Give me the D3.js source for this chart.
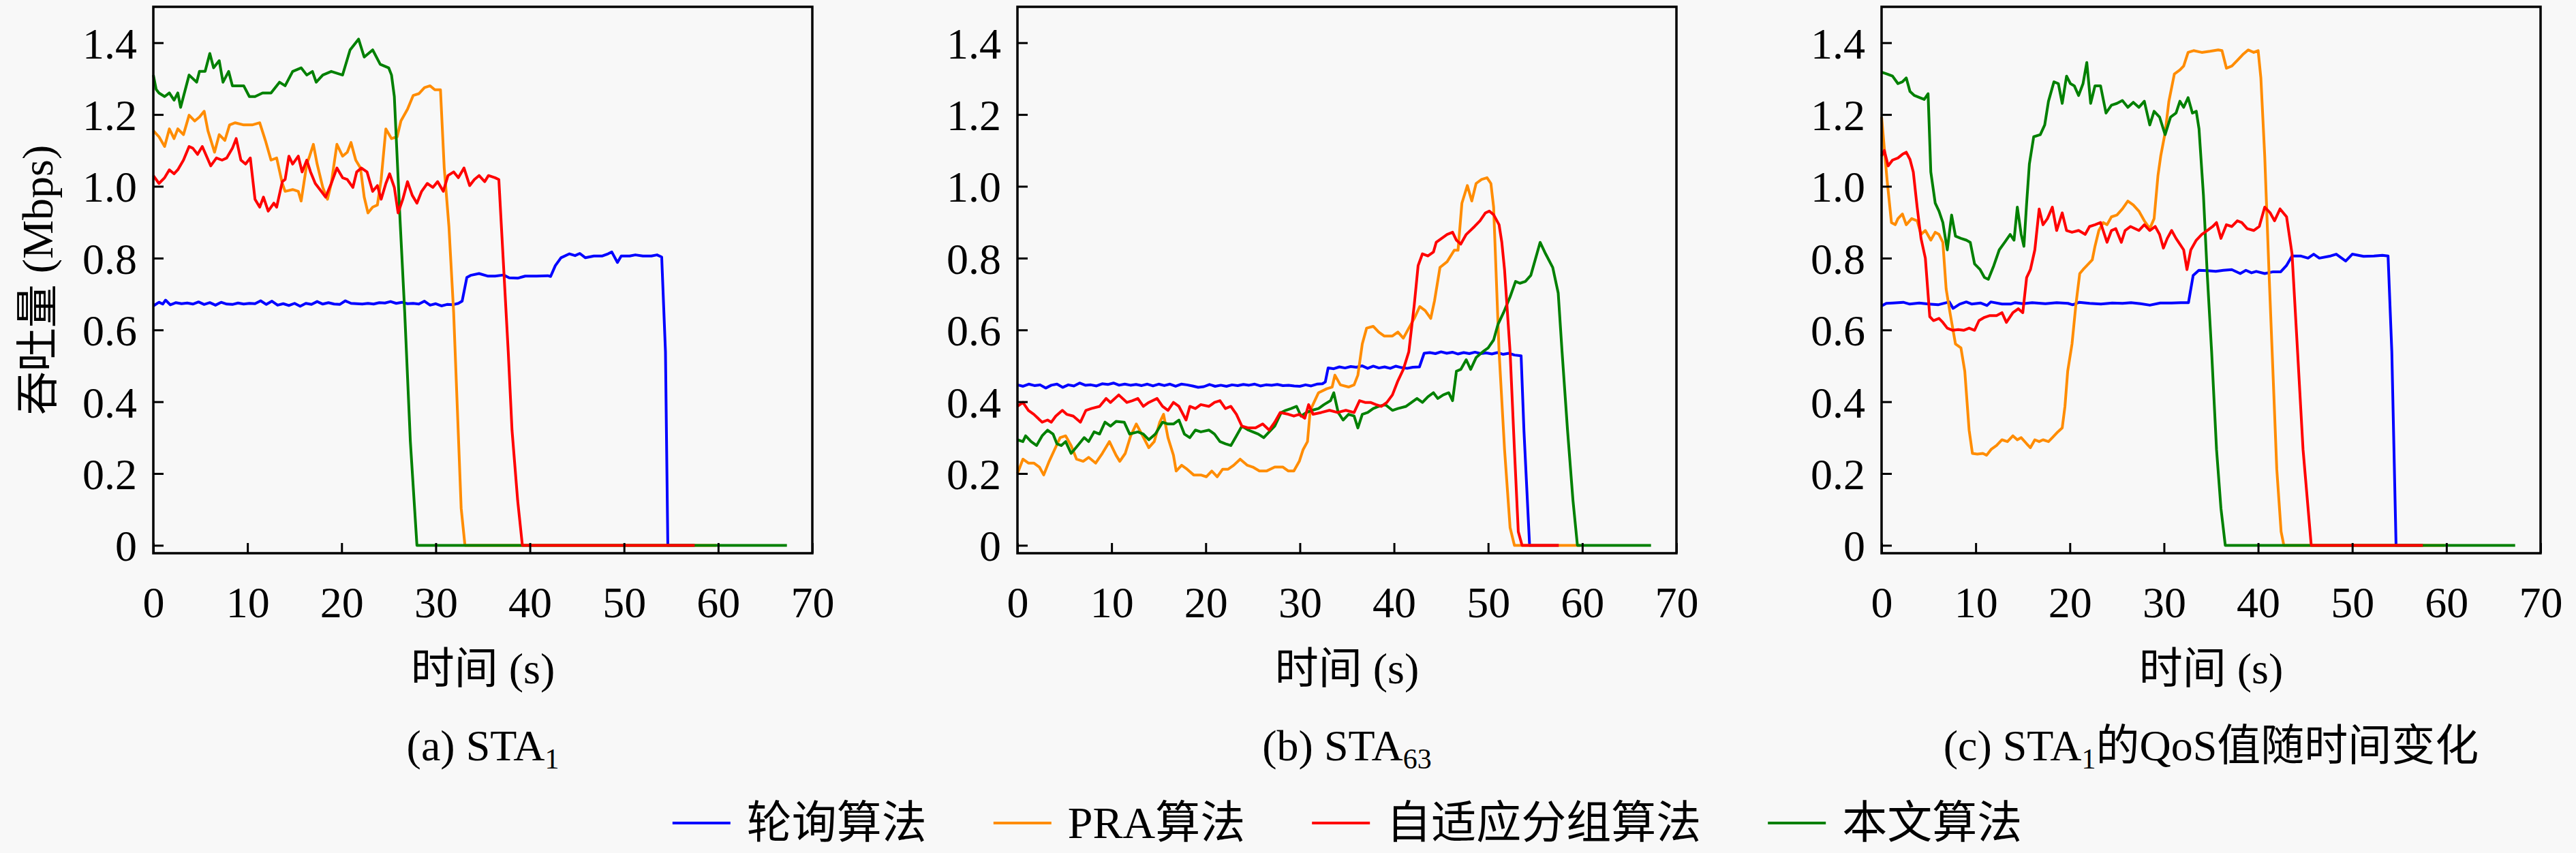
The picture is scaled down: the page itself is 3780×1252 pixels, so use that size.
<!DOCTYPE html>
<html><head><meta charset="utf-8">
<script src="https://cdn.jsdelivr.net/npm/d3@7"></script>
<style>
html,body{margin:0;padding:0;background:#f8f8f8;}
svg{display:block;}
text{font-family:"Liberation Serif","Noto Sans CJK SC",serif;fill:#000;}
</style></head><body>
<svg id="chart" width="3780" height="1252"></svg>
<script>
// ---------- tick labels / categories ----------
const timeTicks = [0, 10, 20, 30, 40, 50, 60, 70];
const rateTicks = [0, 0.2, 0.4, 0.6, 0.8, 1.0, 1.2, 1.4];
const seriesNames = ["轮询算法", "PRA算法", "自适应分组算法", "本文算法"];
const panelCaptions = [["(a) STA", "1", ""], ["(b) STA", "63", ""], ["(c) STA", "1", "的QoS值随时间变化"]];
const xLabel = "时间 (s)";
const yLabel = "吞吐量 (Mbps)";

// ---------- series values: [time (s), throughput (Mbps)] ----------
// (a) STA1
const rrA = [[0,0.667],[0.6,0.677],[1.0,0.672],[1.3,0.683],[1.8,0.67],[2.4,0.676],[3.0,0.673],[3.6,0.675],[4.2,0.672],[4.8,0.678],[5.4,0.671],[6.0,0.676],[6.6,0.669],[7.2,0.677],[7.8,0.672],[8.4,0.671],[9.0,0.675],[9.6,0.672],[10.2,0.674],[10.8,0.673],[11.4,0.681],[12.0,0.671],[12.6,0.68],[13.2,0.669],[13.8,0.673],[14.4,0.668],[15.0,0.674],[15.6,0.666],[16.2,0.674],[16.8,0.671],[17.4,0.679],[18.0,0.672],[18.6,0.676],[19.2,0.672],[19.8,0.671],[20.4,0.681],[21.0,0.674],[21.6,0.673],[22.2,0.672],[22.8,0.674],[23.4,0.672],[24.0,0.676],[24.6,0.675],[25.2,0.679],[25.8,0.674],[26.4,0.677],[27.0,0.673],[27.6,0.674],[28.2,0.672],[28.8,0.68],[29.4,0.669],[30.0,0.673],[30.6,0.667],[31.2,0.671],[31.8,0.67],[32.4,0.674],[32.8,0.68],[33.3,0.746],[33.7,0.752],[34.6,0.757],[35.5,0.75],[36.3,0.75],[37.2,0.753],[37.8,0.745],[38.7,0.744],[39.5,0.75],[40.7,0.75],[41.9,0.751],[42.2,0.749],[42.7,0.779],[43.3,0.801],[44.2,0.812],[44.8,0.807],[45.3,0.813],[45.9,0.801],[46.8,0.806],[47.7,0.806],[48.3,0.812],[48.7,0.817],[49.3,0.788],[49.7,0.806],[50.6,0.806],[51.2,0.809],[52.0,0.806],[52.9,0.806],[53.5,0.809],[54.0,0.803],[54.4,0.539],[54.65,0],[57.5,0]];
const praA = [[0,1.155],[0.6,1.138],[1.2,1.111],[1.7,1.16],[2.2,1.133],[2.6,1.16],[3.2,1.144],[3.8,1.198],[4.4,1.182],[4.9,1.193],[5.4,1.209],[5.8,1.155],[6.5,1.095],[7.0,1.144],[7.6,1.128],[8.1,1.171],[8.7,1.177],[9.6,1.171],[10.5,1.171],[11.3,1.177],[11.9,1.128],[12.5,1.073],[13.1,1.079],[13.7,1.008],[14.0,0.986],[14.8,0.991],[15.4,0.986],[15.7,0.959],[16.3,1.062],[16.6,1.084],[17.0,1.117],[17.4,1.062],[18.0,0.997],[18.5,0.964],[18.9,1.008],[19.5,1.117],[20.1,1.084],[20.6,1.095],[21.0,1.122],[21.5,1.073],[22.0,1.051],[22.4,0.97],[22.8,0.926],[23.3,0.942],[23.8,0.948],[24.2,1.019],[24.7,1.16],[25.3,1.133],[25.9,1.138],[26.3,1.182],[27.0,1.215],[27.6,1.253],[28.2,1.258],[28.8,1.275],[29.4,1.28],[29.9,1.269],[30.5,1.269],[30.9,1.051],[31.4,0.888],[31.9,0.648],[32.3,0.376],[32.7,0.103],[33.1,0],[59.8,0]];
const adgA = [[0,1.03],[0.6,1.008],[1.2,1.024],[1.7,1.046],[2.2,1.035],[2.6,1.046],[3.2,1.073],[3.8,1.111],[4.2,1.106],[4.7,1.089],[5.2,1.111],[6.1,1.057],[6.7,1.079],[7.3,1.073],[7.8,1.079],[8.4,1.106],[8.8,1.133],[9.3,1.073],[9.8,1.062],[10.3,1.079],[10.8,0.964],[11.3,0.942],[11.7,0.97],[12.2,0.931],[12.8,0.953],[13.1,0.942],[13.7,1.013],[14.0,1.019],[14.4,1.084],[14.8,1.062],[15.4,1.084],[15.8,1.04],[16.3,1.073],[16.7,1.04],[17.2,1.008],[17.7,0.991],[18.3,0.97],[18.9,1.008],[19.5,1.051],[20.1,1.024],[20.6,1.019],[21.2,0.997],[21.6,1.04],[22.1,1.051],[22.7,1.04],[23.3,0.986],[23.8,1.002],[24.2,0.964],[24.7,1.008],[25.1,1.035],[25.6,0.997],[26.0,0.926],[26.5,0.964],[27.0,1.013],[27.5,0.975],[28.0,0.953],[28.5,0.986],[29.1,1.008],[29.7,0.997],[30.2,1.013],[30.8,0.986],[31.3,1.03],[31.9,1.04],[32.4,1.024],[33.0,1.051],[33.6,1.002],[34.1,1.019],[34.6,1.03],[35.2,1.013],[35.6,1.03],[36.3,1.024],[36.7,1.019],[37.2,0.779],[37.7,0.539],[38.1,0.321],[38.7,0.125],[39.2,0],[57.5,0]];
const ourA = [[0,1.31],[0.3,1.27],[0.6,1.26],[1.2,1.25],[1.7,1.26],[2.2,1.24],[2.6,1.26],[2.9,1.22],[3.8,1.31],[4.6,1.29],[4.9,1.32],[5.5,1.32],[6.0,1.37],[6.4,1.33],[7.0,1.35],[7.4,1.29],[8.0,1.32],[8.4,1.28],[9.0,1.28],[9.6,1.28],[10.2,1.25],[10.8,1.25],[11.6,1.26],[12.5,1.26],[13.4,1.29],[14.0,1.28],[14.8,1.32],[15.7,1.33],[16.3,1.31],[16.9,1.32],[17.3,1.29],[18.0,1.31],[18.9,1.32],[20.1,1.31],[20.9,1.38],[21.8,1.41],[22.4,1.36],[23.3,1.38],[24.1,1.34],[25.0,1.33],[25.3,1.31],[25.6,1.25],[26.2,0.91],[26.7,0.65],[27.3,0.29],[28.0,0],[67.3,0]];

// (b) STA63
const rrB = [[0,0.447],[0.6,0.443],[1.2,0.449],[1.8,0.445],[2.4,0.447],[3.0,0.438],[3.6,0.446],[4.2,0.449],[4.8,0.44],[5.4,0.447],[6.0,0.444],[6.6,0.452],[7.2,0.446],[7.8,0.447],[8.4,0.444],[9.0,0.45],[9.6,0.448],[10.2,0.452],[10.8,0.446],[11.4,0.449],[12.0,0.446],[12.6,0.448],[13.2,0.445],[13.8,0.449],[14.4,0.444],[15.0,0.449],[15.6,0.445],[16.2,0.449],[16.8,0.443],[17.4,0.449],[18.0,0.447],[18.6,0.444],[19.2,0.44],[19.8,0.442],[20.4,0.448],[21.0,0.443],[21.6,0.446],[22.2,0.443],[22.8,0.447],[23.4,0.445],[24.0,0.448],[24.6,0.446],[25.2,0.449],[25.8,0.444],[26.4,0.447],[27.0,0.446],[27.6,0.448],[28.2,0.445],[28.8,0.446],[29.4,0.444],[30.0,0.443],[30.6,0.447],[31.2,0.444],[31.8,0.449],[32.4,0.45],[32.7,0.455],[33.0,0.494],[33.6,0.492],[34.2,0.497],[34.8,0.494],[35.4,0.498],[36.0,0.496],[36.6,0.5],[37.2,0.493],[37.8,0.499],[38.4,0.494],[39.0,0.497],[39.6,0.493],[40.2,0.499],[40.8,0.495],[41.4,0.493],[42.0,0.496],[42.7,0.497],[43.2,0.535],[43.8,0.537],[44.4,0.534],[45.0,0.539],[45.6,0.535],[46.2,0.538],[46.8,0.533],[47.4,0.537],[48.0,0.534],[48.6,0.538],[49.2,0.534],[49.8,0.536],[50.4,0.533],[51.0,0.537],[51.6,0.532],[52.2,0.535],[52.8,0.53],[53.5,0.528],[53.8,0.32],[54.4,0],[57.5,0]];
const praB = [[0,0.2],[0.58,0.24],[1.16,0.229],[1.74,0.229],[2.33,0.218],[2.79,0.196],[3.37,0.234],[3.95,0.267],[4.53,0.3],[5.12,0.305],[5.7,0.278],[6.28,0.24],[6.98,0.234],[7.56,0.245],[8.31,0.229],[9.01,0.256],[9.77,0.289],[10.47,0.251],[10.87,0.234],[11.45,0.256],[12.03,0.305],[12.62,0.338],[13.2,0.31],[13.95,0.272],[14.53,0.289],[15.12,0.343],[15.52,0.365],[15.99,0.3],[16.57,0.251],[16.86,0.207],[17.44,0.223],[18.02,0.212],[18.72,0.196],[19.48,0.196],[20.06,0.191],[20.64,0.207],[21.22,0.191],[21.8,0.212],[22.38,0.212],[22.97,0.223],[23.66,0.24],[24.42,0.223],[25.0,0.218],[25.7,0.207],[26.45,0.207],[27.33,0.218],[28.2,0.218],[28.78,0.207],[29.36,0.207],[29.94,0.234],[30.35,0.267],[30.81,0.289],[31.1,0.376],[31.98,0.425],[32.85,0.436],[33.43,0.441],[33.72,0.474],[34.3,0.447],[35.17,0.441],[35.76,0.447],[36.16,0.474],[36.63,0.561],[37.09,0.605],[37.79,0.61],[38.37,0.594],[38.95,0.583],[39.83,0.583],[40.41,0.594],[40.99,0.577],[41.57,0.605],[42.15,0.632],[42.73,0.665],[43.31,0.654],[43.9,0.632],[44.3,0.681],[44.88,0.774],[45.64,0.79],[46.4,0.822],[46.8,0.822],[47.21,0.953],[47.79,1.002],[48.26,0.959],[48.72,1.008],[49.3,1.019],[49.88,1.024],[50.29,1.008],[50.58,0.942],[51.16,0.539],[51.74,0.267],[52.33,0.049],[52.79,0],[59.8,0]];
const adgB = [[0,0.387],[0.58,0.398],[1.16,0.376],[1.74,0.365],[2.62,0.343],[3.2,0.349],[3.6,0.343],[4.07,0.36],[4.77,0.376],[5.23,0.365],[5.93,0.36],[6.69,0.343],[7.27,0.376],[7.85,0.381],[8.72,0.387],[9.42,0.409],[9.88,0.398],[10.76,0.419],[11.63,0.398],[12.21,0.403],[12.79,0.409],[13.37,0.387],[13.95,0.398],[14.83,0.409],[15.41,0.387],[15.99,0.376],[16.57,0.398],[17.15,0.387],[17.91,0.349],[18.31,0.387],[18.9,0.381],[19.48,0.392],[20.35,0.387],[20.93,0.398],[21.51,0.403],[22.09,0.381],[22.67,0.387],[23.26,0.365],[23.84,0.332],[24.53,0.327],[25.29,0.327],[26.05,0.338],[26.74,0.321],[27.33,0.343],[27.91,0.37],[28.78,0.365],[29.36,0.36],[29.94,0.365],[30.52,0.354],[30.93,0.392],[31.4,0.365],[32.27,0.37],[33.14,0.376],[34.01,0.37],[34.88,0.376],[35.76,0.37],[36.34,0.403],[36.92,0.398],[37.5,0.398],[38.08,0.392],[38.66,0.387],[39.24,0.398],[39.83,0.419],[40.41,0.458],[40.99,0.49],[41.57,0.539],[42.15,0.67],[42.56,0.779],[43.02,0.812],[43.6,0.806],[44.19,0.817],[44.48,0.844],[45.06,0.855],[45.64,0.866],[46.22,0.872],[46.63,0.85],[47.09,0.839],[47.67,0.866],[48.55,0.888],[49.13,0.904],[49.71,0.926],[50.12,0.931],[50.58,0.921],[51.16,0.893],[51.45,0.844],[51.74,0.768],[52.33,0.539],[52.79,0.267],[53.2,0.038],[53.6,0],[57.5,0]];
const ourB = [[0,0.294],[0.58,0.289],[0.87,0.305],[1.45,0.289],[2.03,0.278],[2.62,0.305],[3.2,0.321],[3.78,0.31],[4.19,0.283],[4.65,0.278],[5.12,0.289],[5.7,0.256],[6.4,0.278],[7.09,0.3],[7.56,0.289],[8.14,0.316],[8.72,0.31],[9.3,0.343],[9.88,0.332],[10.47,0.345],[11.34,0.343],[11.92,0.31],[12.79,0.316],[13.37,0.31],[13.95,0.294],[14.65,0.31],[15.41,0.343],[15.99,0.338],[16.57,0.338],[17.15,0.349],[17.73,0.31],[18.31,0.3],[18.9,0.321],[19.48,0.316],[20.35,0.321],[20.93,0.31],[21.51,0.289],[22.09,0.283],[22.67,0.278],[23.26,0.305],[23.84,0.332],[24.53,0.321],[25.0,0.316],[25.58,0.31],[26.16,0.3],[26.74,0.316],[27.33,0.332],[28.02,0.37],[28.49,0.376],[29.07,0.381],[29.65,0.387],[30.12,0.36],[30.7,0.37],[31.28,0.376],[31.98,0.381],[32.56,0.392],[33.26,0.403],[33.6,0.425],[34.07,0.37],[34.59,0.349],[35.17,0.365],[35.76,0.36],[36.16,0.327],[36.63,0.365],[37.21,0.37],[37.79,0.381],[38.37,0.387],[39.07,0.392],[39.83,0.376],[40.41,0.381],[41.28,0.387],[41.86,0.398],[42.44,0.409],[43.02,0.398],[43.6,0.414],[44.19,0.425],[44.65,0.409],[45.23,0.419],[45.81,0.425],[46.22,0.403],[46.63,0.485],[47.09,0.49],[47.67,0.517],[48.14,0.49],[48.72,0.523],[49.42,0.539],[50.0,0.55],[50.58,0.572],[51.05,0.616],[51.63,0.648],[52.33,0.692],[52.91,0.735],[53.37,0.73],[53.95,0.735],[54.53,0.752],[54.94,0.79],[55.52,0.844],[56.1,0.812],[56.86,0.774],[57.44,0.703],[57.85,0.539],[58.43,0.321],[59.01,0.125],[59.48,0],[67.3,0]];

// (c) STA1 QoS over time
const rrC = [[0,0.667],[0.5,0.674],[1.2,0.675],[2.3,0.677],[3.0,0.672],[4.0,0.675],[5.0,0.672],[6.0,0.67],[7.2,0.678],[7.6,0.66],[8.3,0.672],[9.0,0.678],[9.6,0.672],[10.5,0.675],[11.2,0.668],[11.6,0.678],[12.8,0.672],[13.7,0.672],[14.2,0.676],[15.0,0.673],[16.0,0.676],[17.4,0.673],[18.6,0.676],[19.8,0.674],[20.3,0.67],[21.0,0.677],[22.1,0.674],[23.3,0.672],[24.5,0.675],[25.6,0.674],[26.5,0.676],[27.5,0.673],[28.5,0.669],[29.6,0.675],[30.8,0.675],[31.8,0.676],[32.6,0.676],[33.1,0.752],[33.7,0.766],[34.6,0.765],[35.5,0.763],[36.3,0.766],[37.2,0.768],[38.1,0.757],[38.7,0.766],[39.3,0.759],[39.8,0.763],[40.7,0.757],[41.6,0.762],[42.4,0.762],[43.0,0.779],[43.6,0.806],[44.5,0.806],[45.3,0.8],[45.9,0.811],[46.5,0.8],[47.7,0.806],[48.3,0.811],[49.3,0.792],[50.0,0.811],[51.2,0.805],[52.3,0.806],[53.2,0.808],[53.8,0.806],[54.2,0.539],[54.65,0],[57.5,0]];
const praC = [[0,1.193],[0.29,1.106],[0.58,1.019],[1.05,0.899],[1.45,0.893],[1.74,0.91],[2.21,0.923],[2.62,0.893],[3.2,0.91],[3.78,0.904],[4.19,0.866],[4.65,0.877],[5.23,0.85],[5.7,0.872],[6.1,0.866],[6.51,0.844],[6.86,0.714],[7.27,0.648],[7.85,0.561],[8.43,0.55],[8.84,0.485],[9.3,0.321],[9.65,0.256],[10.17,0.254],[10.76,0.256],[11.16,0.251],[11.63,0.267],[12.21,0.278],[12.79,0.294],[13.37,0.289],[13.95,0.305],[14.42,0.294],[14.83,0.3],[15.41,0.283],[15.81,0.272],[16.28,0.294],[16.74,0.289],[17.15,0.294],[17.73,0.289],[18.14,0.3],[18.72,0.316],[19.19,0.327],[19.48,0.387],[19.77,0.485],[20.23,0.561],[20.64,0.67],[21.05,0.757],[21.4,0.768],[21.8,0.779],[22.38,0.795],[22.67,0.833],[23.08,0.877],[23.55,0.899],[23.95,0.893],[24.42,0.915],[25.0,0.92],[25.58,0.937],[26.16,0.959],[26.74,0.948],[27.33,0.931],[27.91,0.904],[28.49,0.882],[28.95,0.91],[29.36,1.03],[29.65,1.084],[30.12,1.149],[30.52,1.237],[31.1,1.313],[31.69,1.324],[32.09,1.335],[32.56,1.373],[33.14,1.378],[34.01,1.373],[34.88,1.376],[35.76,1.38],[36.16,1.378],[36.63,1.329],[37.21,1.335],[37.79,1.351],[38.37,1.367],[38.95,1.38],[39.53,1.373],[40.0,1.378],[40.29,1.302],[40.7,1.084],[41.16,0.757],[41.57,0.485],[41.98,0.212],[42.44,0.038],[42.73,0],[59.8,0]];
const adgC = [[0,1.084],[0.29,1.1],[0.7,1.057],[1.16,1.073],[1.74,1.079],[2.21,1.089],[2.62,1.095],[3.02,1.075],[3.37,1.04],[3.78,0.942],[4.19,0.855],[4.65,0.8],[5.12,0.637],[5.52,0.626],[6.1,0.632],[6.51,0.621],[6.98,0.605],[7.56,0.599],[8.14,0.601],[8.72,0.599],[9.3,0.605],[9.88,0.599],[10.35,0.626],[10.93,0.635],[11.51,0.64],[12.21,0.64],[12.79,0.648],[13.26,0.621],[13.95,0.648],[14.53,0.659],[15.0,0.648],[15.41,0.746],[15.81,0.768],[16.28,0.823],[16.74,0.937],[17.15,0.893],[17.62,0.91],[18.14,0.942],[18.6,0.877],[19.19,0.926],[19.65,0.877],[20.23,0.872],[20.93,0.877],[21.63,0.866],[22.09,0.888],[22.67,0.893],[23.26,0.899],[23.95,0.844],[24.42,0.877],[24.88,0.882],[25.47,0.844],[25.87,0.877],[26.45,0.888],[27.33,0.877],[27.91,0.893],[28.49,0.877],[29.07,0.888],[29.53,0.866],[29.94,0.828],[30.35,0.855],[30.81,0.877],[31.28,0.855],[31.69,0.839],[32.09,0.823],[32.44,0.768],[32.85,0.823],[33.43,0.85],[34.01,0.866],[34.59,0.877],[35.17,0.888],[35.58,0.899],[36.05,0.855],[36.63,0.893],[37.21,0.888],[37.79,0.904],[38.26,0.899],[38.84,0.882],[39.53,0.877],[40.12,0.888],[40.7,0.942],[41.28,0.926],[41.74,0.904],[42.33,0.937],[43.02,0.915],[43.6,0.812],[44.19,0.539],[44.77,0.267],[45.64,0],[57.5,0]];
const ourC = [[0,1.318],[0.58,1.313],[1.16,1.307],[1.74,1.286],[2.21,1.291],[2.62,1.302],[3.02,1.264],[3.49,1.253],[4.07,1.247],[4.53,1.242],[4.94,1.258],[5.23,1.04],[5.7,0.953],[6.1,0.931],[6.51,0.899],[6.98,0.823],[7.44,0.92],[7.85,0.861],[8.43,0.855],[9.01,0.85],[9.42,0.844],[9.88,0.784],[10.47,0.768],[10.93,0.746],[11.34,0.741],[11.92,0.779],[12.5,0.823],[13.08,0.844],[13.66,0.866],[14.07,0.85],[14.42,0.942],[14.83,0.866],[15.12,0.833],[15.41,0.953],[15.7,1.062],[16.16,1.138],[16.86,1.144],[17.33,1.171],[17.73,1.237],[18.31,1.291],[18.78,1.286],[19.19,1.231],[19.65,1.307],[20.06,1.286],[20.47,1.28],[20.93,1.253],[21.4,1.286],[21.8,1.345],[22.21,1.231],[22.67,1.28],[23.26,1.28],[23.84,1.204],[24.42,1.226],[25.0,1.231],[25.58,1.239],[26.16,1.22],[26.74,1.234],[27.33,1.22],[27.91,1.237],[28.49,1.171],[28.95,1.209],[29.53,1.193],[30.12,1.144],[30.7,1.193],[31.28,1.204],[31.69,1.237],[32.09,1.22],[32.56,1.247],[33.02,1.204],[33.43,1.209],[33.72,1.16],[34.19,0.975],[34.59,0.757],[35.06,0.539],[35.58,0.267],[36.05,0.103],[36.51,0],[67.3,0]];

// ---------- styles / layout ----------
const seriesColors = ["#0000ff", "#ff8c00", "#ff0000", "#008000"];
const panelData = [[rrA, praA, adgA, ourA], [rrB, praB, adgB, ourB], [rrC, praC, adgC, ourC]];
const drawOrder = [0, 1, 3, 2];

const svg = d3.select("#chart");
const panelLefts = [225, 1493, 2761];
const plotW = 967, plotTop = 10, plotBottom = 812;
const FS = 64;

panelData.forEach((series, pi) => {
  const left = panelLefts[pi];
  const x = d3.scaleLinear().domain([0, 70]).range([left, left + plotW]);
  const y = d3.scaleLinear().domain([-0.022, 1.5]).range([plotBottom, plotTop]);
  const g = svg.append("g");

  const line = d3.line().x(d => x(d[0])).y(d => y(d[1]));
  drawOrder.forEach(si => {
    g.append("path").datum(series[si])
      .attr("d", line).attr("fill", "none")
      .attr("stroke", seriesColors[si])
      .attr("stroke-width", 4)
      .attr("stroke-linejoin", "round");
  });

  const xa = g.append("g").attr("transform", `translate(0,${plotBottom})`)
    .call(d3.axisBottom(x).tickValues(timeTicks).tickSizeInner(-15).tickSizeOuter(0).tickFormat(d3.format("d")));
  xa.select(".domain").remove();
  xa.selectAll(".tick line").attr("stroke", "#000").attr("stroke-width", 3);
  xa.selectAll(".tick text").attr("y", 94).attr("dy", 0).attr("font-size", FS)
    .attr("font-family", "Liberation Serif").attr("fill", "#000");

  const ya = g.append("g").attr("transform", `translate(${left},0)`)
    .call(d3.axisLeft(y).tickValues(rateTicks).tickSizeInner(-15).tickSizeOuter(0)
      .tickFormat(d => d === 0 ? "0" : d3.format(".1f")(d)));
  ya.select(".domain").remove();
  ya.selectAll(".tick line").attr("stroke", "#000").attr("stroke-width", 3);
  ya.selectAll(".tick text").attr("x", -24).attr("dy", "0.35em").attr("font-size", FS)
    .attr("font-family", "Liberation Serif").attr("fill", "#000");

  g.append("rect").attr("x", left).attr("y", plotTop).attr("width", plotW).attr("height", plotBottom - plotTop)
    .attr("fill", "none").attr("stroke", "#000").attr("stroke-width", 3.5);

  const cx = left + plotW / 2;
  g.append("text").attr("x", cx).attr("y", 1003).attr("text-anchor", "middle").attr("font-size", FS).text(xLabel);

  const cap = panelCaptions[pi];
  const t = g.append("text").attr("x", cx).attr("y", 1116).attr("text-anchor", "middle").attr("font-size", FS);
  t.append("tspan").text(cap[0]);
  t.append("tspan").attr("font-size", 42).attr("dy", 12).text(cap[1]);
  t.append("tspan").attr("dy", -12).text(cap[2]);

  if (pi === 0) {
    svg.append("text").attr("transform", `translate(55,${(plotTop + plotBottom) / 2}) rotate(-90)`)
      .attr("text-anchor", "middle").attr("dy", "0.35em").attr("font-size", FS).text(yLabel);
  }
});

// ---------- legend ----------
const lg = svg.append("g");
const lineLen = 85, lineGap = 24, entryGap = 98, legendY = 1208, legendBase = 1230;
let cursor = 0;
seriesNames.forEach((name, i) => {
  const it = lg.append("g");
  it.append("line").attr("x1", cursor).attr("x2", cursor + lineLen).attr("y1", legendY).attr("y2", legendY)
    .attr("stroke", seriesColors[i]).attr("stroke-width", 4);
  const tx = it.append("text").attr("x", cursor + lineLen + lineGap).attr("y", legendBase).attr("font-size", 66).text(name);
  const w = tx.node().getComputedTextLength();
  cursor += lineLen + lineGap + w + entryGap;
});
const total = cursor - entryGap;
lg.attr("transform", `translate(${1977 - total / 2},0)`);
</script>
</body></html>
